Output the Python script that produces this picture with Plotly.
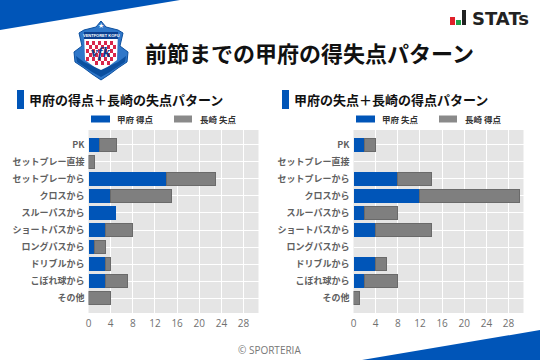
import plotly.graph_objects as go

W, H = 540, 360
categories = ["PK", "セットプレー直接", "セットプレーから", "クロスから", "スルーパスから",
              "ショートパスから", "ロングパスから", "ドリブルから", "こぼれ球から", "その他"]
left_kofu_scored = [2, 0, 14, 4, 5, 3, 1, 3, 3, 0]
left_nagasaki_conceded = [3, 1, 9, 11, 0, 5, 2, 1, 4, 4]
right_kofu_conceded = [2, 0, 8, 12, 2, 4, 0, 4, 2, 0]
right_nagasaki_scored = [2, 0, 6, 18, 6, 10, 0, 2, 6, 1]
x_ticks = [0, 4, 8, 12, 16, 20, 24, 28]

BLUE = "#0055b8"
GREY = "#7f7f7f"
FONT = "Noto Sans CJK JP"

def px(x): return x / W
def py(y): return 1 - y / H
def blank_zero(values): return [v if v else None for v in values]

fig = go.Figure()
panels = [("x", "y", left_kofu_scored, left_nagasaki_conceded, "甲府 得点", "長崎 失点"),
          ("x2", "y2", right_kofu_conceded, right_nagasaki_scored, "甲府 失点", "長崎 得点")]
for xa, ya, a, b, na, nb in panels:
    fig.add_bar(x=blank_zero(a), y=categories, orientation="h", xaxis=xa, yaxis=ya, name=na,
                marker=dict(color=BLUE, line=dict(width=0)), width=0.8)
    fig.add_bar(x=blank_zero(b), y=categories, orientation="h", xaxis=xa, yaxis=ya, name=nb,
                marker=dict(color=GREY, line=dict(color="#6a6a6a", width=1)), width=0.8)

xcommon = dict(range=[0, 30.7], tickvals=x_ticks, showgrid=True, gridcolor="white", gridwidth=1,
               zeroline=False, ticks="", automargin=False, ticklabelstandoff=3,
               tickfont=dict(size=10, color="#707070", family="Open Sans"))
ycommon = dict(categoryorder="array", categoryarray=categories, range=[9.87, -0.87], showgrid=True,
               gridcolor="white", gridwidth=1, ticks="", automargin=False, ticklabelstandoff=3,
               tickfont=dict(size=9, color="#606060", family=FONT, weight="bold"))

shapes = []
def poly(points, color, line=None, lw=0):
    d = "M" + " L".join(f"{px(x):.5f},{py(y):.5f}" for x, y in points) + " Z"
    shapes.append(dict(type="path", xref="paper", yref="paper", path=d, fillcolor=color,
                       line=dict(width=lw, color=line or color), layer="below"))
def rect(x0, y0, x1, y1, color):
    shapes.append(dict(type="rect", xref="paper", yref="paper", x0=px(x0), x1=px(x1),
                       y0=py(y1), y1=py(y0), fillcolor=color, line=dict(width=0), layer="below"))

# corner bands
poly([(0, 0), (180, 0), (0, 30)], BLUE)
poly([(362, 360), (540, 330), (540, 360)], BLUE)
# title markers
rect(17, 90, 24, 109, BLUE)
rect(282, 90, 289, 109, BLUE)
# legend swatches
rect(91, 115.5, 110, 122.5, BLUE)
rect(174, 115.5, 192, 122.5, "#8a8a8a")
rect(356, 115.5, 375, 122.5, BLUE)
rect(439, 115.5, 457, 122.5, "#8a8a8a")
# STATs mark
rect(450, 17, 455, 25, "#e0202a")
rect(456, 20, 461, 25, "#1fa04a")
rect(462, 10, 466, 25, "#222222")
# crest
crest = [(101, 21), (106, 27), (118, 30), (123, 33), (120, 46), (128, 52), (127, 62), (118, 68),
         (110, 74), (101, 80), (92, 74), (84, 68), (75, 62), (74, 52), (82, 46), (79, 33), (84, 30), (96, 27)]
poly(crest, "#2f77c9", "#0b4f9f", 1)
poly([(84, 32), (118, 32), (117, 60), (101, 72), (85, 60)], "#ffffff")
rect(84, 32, 118, 39, "#0b3f8f")
for r in range(6):
    for c in range(10):
        if (r + c) % 2 == 0 and not (r == 5 and (c < 2 or c > 7)):
            rect(86 + c * 3, 41 + r * 4, 89 + c * 3, 45 + r * 4, "#d8264a")
poly([(76, 56), (84, 62), (101, 70), (118, 62), (126, 56), (125, 62), (110, 72), (101, 77), (92, 72), (77, 62)], "#0b4f9f")

def text(x, y, s, size, color="#111111", family=FONT, anchor="left", bold=False):
    fig.add_annotation(xref="paper", yref="paper", x=px(x), y=py(y), text=f"<b>{s}</b>" if bold else s,
                       showarrow=False, xanchor=anchor, yanchor="middle",
                       font=dict(size=size, color=color, family=family))

text(101, 26, "★", 7, "#ffffff", "DejaVu Sans", "center")
text(101, 35.5, "VENTFORET KOFU", 4, "#ffffff", "Liberation Sans", "center", True)
text(101, 52, "<i>vfk</i>", 15, "#0b3f8f", "Liberation Serif", "center", True)
text(143, 52, "前節までの甲府の得失点パターン", 22, bold=True)
text(27, 99, "甲府の得点＋長崎の失点パターン", 13, bold=True)
text(292, 99, "甲府の失点＋長崎の得点パターン", 13, bold=True)
text(115, 119, panels[0][4], 8.5, "#333333", bold=True)
text(198, 119, panels[0][5], 8.5, "#333333", bold=True)
text(380, 119, panels[1][4], 8.5, "#333333", bold=True)
text(463, 119, panels[1][5], 8.5, "#333333", bold=True)
text(470, 18, "STATs", 18, "#222222", "DejaVu Sans", bold=True)
text(269, 350, "© SPORTERIA", 10, "#777777", "Open Sans", "center")

fig.update_layout(
    width=W, height=H, margin=dict(l=0, r=0, t=0, b=0), barmode="stack", bargap=0.2,
    paper_bgcolor="white", plot_bgcolor="#e5e5e5", showlegend=False, shapes=shapes,
    xaxis=dict(domain=[px(88.5), px(258.5)], anchor="y", **xcommon),
    yaxis=dict(domain=[py(313), py(130)], anchor="x", **ycommon),
    xaxis2=dict(domain=[px(353.5), px(523.5)], anchor="y2", **xcommon),
    yaxis2=dict(domain=[py(313), py(130)], anchor="x2", **ycommon),
)
fig.write_html("out.html", config={"displayModeBar": False},
               post_script="document.body.style.margin='0';document.documentElement.style.overflow='hidden';")
